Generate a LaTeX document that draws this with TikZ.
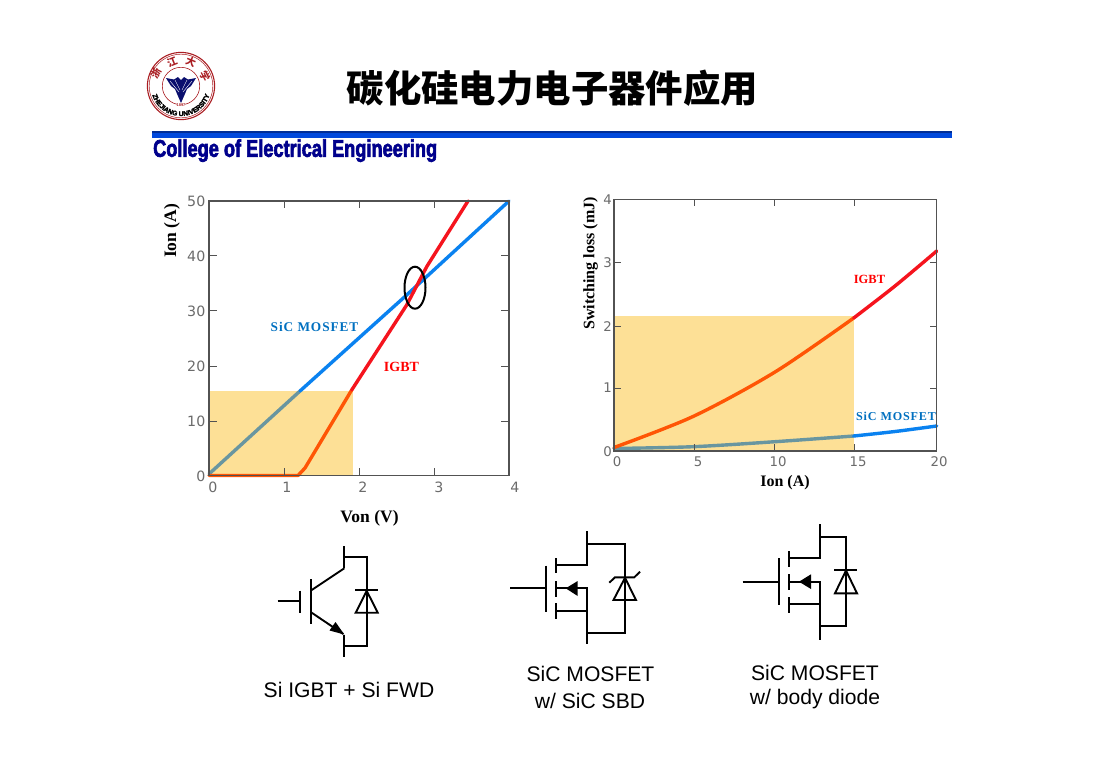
\documentclass[tikz,border=0pt]{standalone}
\usepackage{fontspec}
\usepackage{graphicx}
\setmainfont{Liberation Sans}
\newfontfamily\cjk{Noto Sans CJK SC}
\newfontfamily\tms{Liberation Serif}
\newfontfamily\tmsp[LetterSpace=7]{Liberation Serif}
\newfontfamily\djv{DejaVu Sans}
\newfontfamily\hvy[BoldFeatures={FakeBold=3}]{Liberation Sans}
\usetikzlibrary{decorations.text,calc}
\newcommand\szf[1]{\fontsize{#1}{#1}\selectfont}
\definecolor{areafill}{RGB}{253,224,150}
\definecolor{navy}{RGB}{0,0,140}
\definecolor{birdnavy}{RGB}{10,15,110}
\definecolor{barblue}{RGB}{0,72,220}
\definecolor{bardark}{RGB}{0,45,150}
\definecolor{cblue}{RGB}{10,130,240}
\definecolor{cteal}{RGB}{105,150,160}
\definecolor{cred}{RGB}{245,20,30}
\definecolor{corange}{RGB}{255,85,5}
\definecolor{lblue}{RGB}{0,112,192}
\definecolor{logored}{RGB}{170,30,35}
\tikzset{
  frame/.style={draw=black!68,line width=1.3pt},
  tick/.style={draw=black!68,line width=1pt},
  ticklabel/.style={inner sep=0pt,text=black!58,font=\djv\szf{14.2}},
  ticklabelb/.style={inner sep=0pt,text=black!58,font=\djv\szf{13.3}},
  curve/.style={line width=3.4pt,line join=round,line cap=round},
  axlabel/.style={inner sep=0pt,font=\tms\bfseries\szf{16}},
  axlabelb/.style={inner sep=0pt,font=\tms\bfseries\szf{17.5}},
  sym/.style={draw=black,line width=1.9pt,line join=miter},
  head/.style={fill=black,draw=none},
  diodebox/.style={draw=black,line width=1.9pt,fill=none,line join=miter},
  caption/.style={inner sep=0pt,font=\szf{21.1}},
  logochar/.style={inner sep=0pt,text=logored,font=\cjk\bfseries\szf{10}},
}
\begin{document}
\begin{tikzpicture}[x=1pt,y=-1pt]
\useasboundingbox (0,0) rectangle (1116,756);
\fill[white] (0,0) rectangle (1116,756);

% ---------- logo
\begin{scope}[shift={(181,86)},yscale=-1]
  \draw[logored,line width=1.1pt] (0,0) circle[radius=33.6];
  \draw[logored,line width=.5pt] (0,0) circle[radius=31.8];
  \draw[logored,line width=.6pt] (0,0) circle[radius=18.7];
  \node[logochar,rotate=62] (lz) at (-25.2,12.5) {浙};
  \node[logochar,rotate=22] (lj) at (-9,24) {江};
  \node[logochar,rotate=-22] (ld) at (10,24) {大};
  \node[logochar,rotate=-62] (lx) at (24,9.5) {学};
  \fill[birdnavy] (-15,8) -- (-7,6.5) -- (-3,9) -- (0,6) -- (3,9) -- (7,6.5) -- (15,8) -- (10,0) -- (6,-3) -- (3.5,-9) -- (0,-17) -- (-3.5,-9) -- (-6,-3) -- (-10,0) -- cycle;
  \draw[white,line width=.4pt] (-11,5) -- (-2,-6) (11,5) -- (2,-6) (-6,6) -- (-1,-4) (6,6) -- (1,-4);
  \path[decorate,decoration={text along path,text align=center,
     text={|\hvy\bfseries\szf{6.7}|ZHEJIANG UNIVERSITY}}]
     (-29,-7.8) arc[start angle=195,end angle=345,radius=30];
  \node[inner sep=0pt,fill=white,text=logored,font=\bfseries\szf{4}] (ly) at (0,-18.7) {1897};
\end{scope}

% ---------- title, bar, college
\node[inner sep=0pt,font=\cjk\bfseries\szf{37.4}] (title) at (552.3,88) {碳化硅电力电子器件应用};
\fill[barblue] (152,131) rectangle (952,138);
\fill[bardark] (152,131) rectangle (952,132.6);
\node[inner sep=0pt,anchor=west,text=navy,font=\hvy\bfseries] (college) at (153,150.6)
  {\resizebox{284pt}{17.5pt}{\szf{20}College of Electrical Engineering}};

% ---------- left plot
\fill[areafill] (209,391) rectangle (353,476);
\draw[curve,cteal] (209,474) -- (300,391);
\draw[curve,cblue] (300,391) -- (405,296.5) -- (509,201);
\draw[curve,corange] (209,475.5) -- (298,475.5) -- (305,468) -- (351.7,390);
\draw[curve,cred] (351.7,390) -- (406.7,305) -- (426.7,266.7) -- (468,201);
\draw[frame] (209,201) rectangle (509,475.5);
\foreach \tx in {284,359,434} { \draw[tick] (\tx,201) -- (\tx,208); \draw[tick] (\tx,475.5) -- (\tx,468); }
\foreach \ty in {255,310,366,421} { \draw[tick] (209,\ty) -- (217,\ty); \draw[tick] (509,\ty) -- (501,\ty); }
\foreach \tx/\t in {213/0,287/1,363/2,439/3,515/4} \node[ticklabel] (xa\t) at (\tx,487.5) {\t};
\foreach \ty/\t in {201/50,256/40,311/30,366/20,421/10,476/0} \node[ticklabel,anchor=east] (ya\t) at (205.5,\ty) {\t};
\draw[black,line width=2pt] (415,287.7) ellipse[x radius=10.5,y radius=21];
\node[axlabelb] (von) at (369.5,518) {Von (V)};
\node[axlabelb,rotate=90] (iona) at (172,231) {Ion (A)};
\node[inner sep=0pt,text=lblue,font=\tmsp\bfseries\szf{13.3}] (sica) at (314.5,326.5) {SiC MOSFET};
\node[inner sep=0pt,text=red,font=\tms\bfseries\szf{14}] (igbta) at (401.5,367) {IGBT};

% ---------- right plot
\fill[areafill] (614,316.3) rectangle (853.7,451.5);
\draw[curve,cteal] plot[smooth] coordinates {(614,448.5) (693,446.7) (775,441.7) (853.7,436)};
\draw[curve,cblue] plot[smooth] coordinates {(853.7,436) (895,431.5) (936.7,426)};
\draw[curve,corange] plot[smooth] coordinates {(614,447.5) (693,416.5) (775,372) (853.7,318)};
\draw[curve,cred] plot[smooth] coordinates {(853.7,318) (895,286) (936.7,251)};
\draw[frame] (614,199.3) rectangle (936.7,451);
\foreach \tx in {694,774,854} { \draw[tick] (\tx,199.3) -- (\tx,206); \draw[tick] (\tx,451) -- (\tx,444); }
\foreach \ty in {262.7,326,388} { \draw[tick] (614,\ty) -- (621,\ty); \draw[tick] (936.7,\ty) -- (930,\ty); }
\foreach \tx/\t in {617/0,698/5,778/10,858/15,939/20} \node[ticklabelb] (xb\t) at (\tx,461.7) {\t};
\foreach \ty/\t in {200/4,263/3,327/2,388/1,452/0} \node[ticklabelb] (yb\t) at (607.7,\ty) {\t};
\node[axlabel,rotate=90] (swl) at (590.5,263.5) {Switching loss (mJ)};
\node[axlabel] (ionb) at (785,483) {Ion (A)};
\node[inner sep=0pt,text=red,font=\tms\bfseries\szf{12.5}] (igbtb) at (869.5,279.5) {IGBT};
\node[inner sep=0pt,text=lblue,font=\tmsp\bfseries\szf{12.1}] (sicb) at (896,416) {SiC MOSFET};

% ---------- IGBT + FWD
\draw[sym] (277.7,601.3) -- (300,601.3);
\draw[sym] (300,590.7) -- (300,612.7);
\draw[sym] (311,579.3) -- (311,624);
\draw[sym] (311.7,590) -- (344.3,568.3);
\draw[sym] (344.3,546) -- (344.3,568.3);
\draw[sym] (344.3,557.3) -- (366.7,557.3) -- (366.7,646) -- (344.3,646);
\draw[sym] (311.7,612.7) -- (343.3,634);
\draw[sym] (344.3,635) -- (344.3,657.3);
\fill[head] (344.3,634.5) -- (329.5,630.5) -- (335.5,622) -- cycle;
\draw[sym] (355,590.3) -- (377.7,590.3);
\draw[diodebox] (366.7,590.8) -- (355.7,612.7) -- (377.7,612.7) -- cycle;
\node[caption] (capa) at (349,690) {Si IGBT + Si FWD};

% ---------- SiC MOSFET w/ SBD
\draw[sym] (510,588.3) -- (546,588.3);
\draw[sym] (546,565.7) -- (546,611.7);
\draw[sym] (556,558.3) -- (556,573.3);
\draw[sym] (556,581) -- (556,596.7);
\draw[sym] (556,603.3) -- (556,619.3);
\draw[sym] (556,565.3) -- (586.7,565.3) -- (586.7,531);
\draw[sym] (586.7,544) -- (625,544) -- (625,632.7) -- (586.7,632.7);
\draw[sym] (556,610.7) -- (586.7,610.7);
\draw[sym] (556,588.3) -- (586.7,588.3) -- (586.7,644.3);
\fill[head] (565.7,588.3) -- (577.7,581) -- (577.7,596) -- cycle;
\draw[sym] (609.3,582.7) -- (615,577.3) -- (634.3,577.3) -- (640,571.7);
\draw[diodebox] (625,577.8) -- (613.5,600) -- (636,600) -- cycle;
\node[caption] (capb1) at (590.5,674) {SiC MOSFET};
\node[caption] (capb2) at (590,700.5) {w/ SiC SBD};

% ---------- SiC MOSFET w/ body diode
\draw[sym] (742.7,581.7) -- (779.3,581.7);
\draw[sym] (779.3,558.3) -- (779.3,605);
\draw[sym] (789.3,551) -- (789.3,566.7);
\draw[sym] (789.3,574.3) -- (789.3,590);
\draw[sym] (789.3,597.3) -- (789.3,612.7);
\draw[sym] (789.3,558.3) -- (820.3,558.3) -- (820.3,524);
\draw[sym] (820.3,537.3) -- (846,537.3) -- (846,626) -- (820.3,626);
\draw[sym] (789.3,604.3) -- (820.3,604.3);
\draw[sym] (789.3,581.7) -- (820.3,581.7) -- (820.3,640);
\fill[head] (799,581.7) -- (811,574.3) -- (811,589) -- cycle;
\draw[sym] (834.3,570) -- (857.3,570);
\draw[diodebox] (846,570.5) -- (835,593.3) -- (857,593.3) -- cycle;
\node[caption] (capc1) at (815,672.5) {SiC MOSFET};
\node[caption] (capc2) at (815,699) {w/ body diode};
\end{tikzpicture}
\end{document}
